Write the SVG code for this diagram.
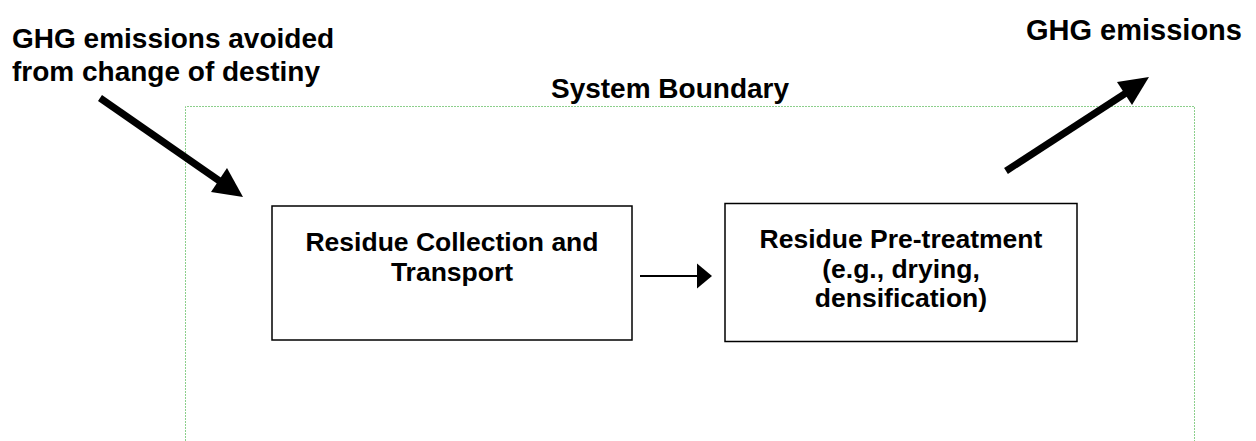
<svg xmlns="http://www.w3.org/2000/svg" width="1256" height="441" viewBox="0 0 1256 441">
  <style>
    .label { font-family: "Liberation Sans", Arial, sans-serif; font-weight: bold; fill: #000; }
    .big { font-size: 28px; }
    .box-text { font-size: 26.5px; text-anchor: middle; }
    .box { fill: #fff; stroke: #000; stroke-width: 1.5; }
    .boundary { fill: none; stroke: #8ccf8c; stroke-width: 1; stroke-dasharray: 2 1; }
    .thick { stroke: #000; stroke-width: 7; fill: none; }
    .thin { stroke: #000; stroke-width: 2; fill: none; }
  </style>

  <!-- system boundary (open at the bottom edge) -->
  <g id="system-boundary">
    <polyline class="boundary" points="185.5,441 185.5,106.5 1194.5,106.5 1194.5,441"/>
    <text class="label big" x="670" y="98" text-anchor="middle">System Boundary</text>
  </g>

  <g id="label-avoided">
    <text class="label big" x="12" y="48">GHG emissions avoided</text>
    <text class="label big" x="12" y="81">from change of destiny</text>
  </g>

  <g id="label-emissions">
    <text class="label big" x="1026" y="40" style="font-size:29px">GHG emissions</text>
  </g>

  <g id="node-collection">
    <rect class="box" x="272" y="206" width="360" height="134"/>
    <text class="label box-text" x="452" y="251">Residue Collection and</text>
    <text class="label box-text" x="452" y="281">Transport</text>
  </g>

  <g id="node-pretreatment">
    <rect class="box" x="725" y="203.5" width="352" height="138"/>
    <text class="label box-text" x="901" y="248">Residue Pre-treatment</text>
    <text class="label box-text" x="901" y="278">(e.g., drying,</text>
    <text class="label box-text" x="901" y="307">densification)</text>
  </g>

  <g id="connectors">
    <!-- inflow of avoided emissions -->
    <line class="thick" x1="100" y1="98" x2="221" y2="182"/>
    <polygon points="243,197 211,192 227,168" fill="#000"/>
    <!-- collection to pre-treatment -->
    <line class="thin" x1="640" y1="276" x2="699" y2="276"/>
    <polygon points="697,263.5 712,276 697,288.5" fill="#000"/>
    <!-- outflow of emissions -->
    <line class="thick" x1="1006" y1="171" x2="1126" y2="93"/>
    <polygon points="1149,77 1117,82 1132,105" fill="#000"/>
  </g>
</svg>
